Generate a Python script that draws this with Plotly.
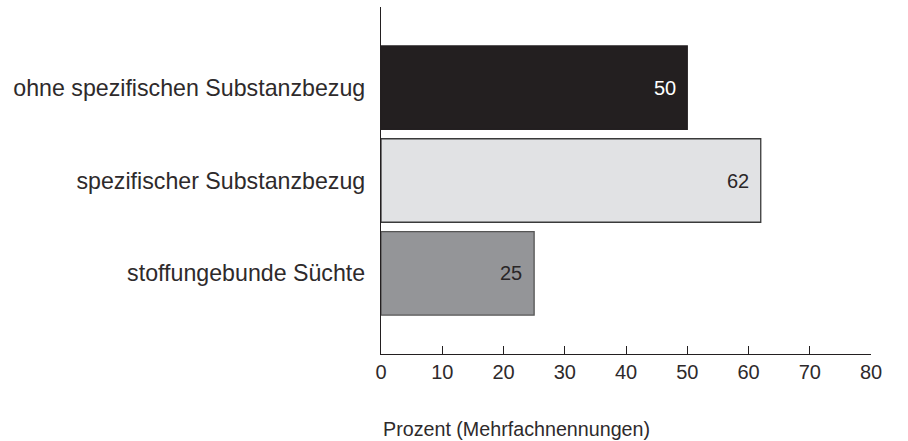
import plotly.graph_objects as go

# Survey categories (top to bottom) and their shares in percent
categories = ["ohne spezifischen Substanzbezug", "spezifischer Substanzbezug", "stoffungebunde Süchte"]
values = [50, 62, 25]
bar_colors = ["#231f20", "#e1e2e4", "#949598"]
border_colors = ["#231f20", "#3a3a3a", "#555555"]
label_colors = ["#ffffff", "#2a2627", "#2a2627"]
tick_values = [0, 10, 20, 30, 40, 50, 60, 70, 80]
axis_title = "Prozent (Mehrfachnennungen)"

FONT = "Liberation Sans, Arial, sans-serif"
TEXT = "#2e2a2b"

fig = go.Figure()
fig.add_trace(go.Bar(
    x=values,
    y=categories,
    orientation="h",
    marker=dict(color=bar_colors, line=dict(color=border_colors, width=1.3)),
    width=0.9,
    hoverinfo="skip",
))

# value labels placed inside each bar, a little before its end
for cat, val, col in zip(categories, values, label_colors):
    fig.add_annotation(
        x=val - 3.7, y=cat, xref="x", yref="y",
        text=str(val), showarrow=False,
        font=dict(family=FONT, size=20, color=col),
        xanchor="center", yanchor="middle",
    )

fig.add_annotation(
    x=0, y=-0.18, xref="x", yref="paper",
    text=axis_title, showarrow=False,
    font=dict(family=FONT, size=19.7, color=TEXT),
    xanchor="left", yanchor="top",
)

fig.update_layout(
    width=908, height=441,
    margin=dict(l=381, r=37, t=7, b=87),
    paper_bgcolor="white", plot_bgcolor="white",
    showlegend=False,
    font=dict(family=FONT, color=TEXT),
    xaxis=dict(
        range=[0, 80], tickvals=tick_values,
        ticks="inside", ticklen=8, tickwidth=1.3, tickcolor="#231f20",
        showline=True, linecolor="#231f20", linewidth=1.3,
        showgrid=False, zeroline=False,
        tickfont=dict(family=FONT, size=20, color=TEXT),
        fixedrange=True,
    ),
    yaxis=dict(
        categoryorder="array", categoryarray=categories,
        range=[2.87, -0.87],
        showline=True, linecolor="#231f20", linewidth=1.3,
        showgrid=False, zeroline=False, ticks="",
        tickfont=dict(family=FONT, size=23.2, color=TEXT),
        ticklabelstandoff=10,
        fixedrange=True,
    ),
)

fig.write_html("out.html")
